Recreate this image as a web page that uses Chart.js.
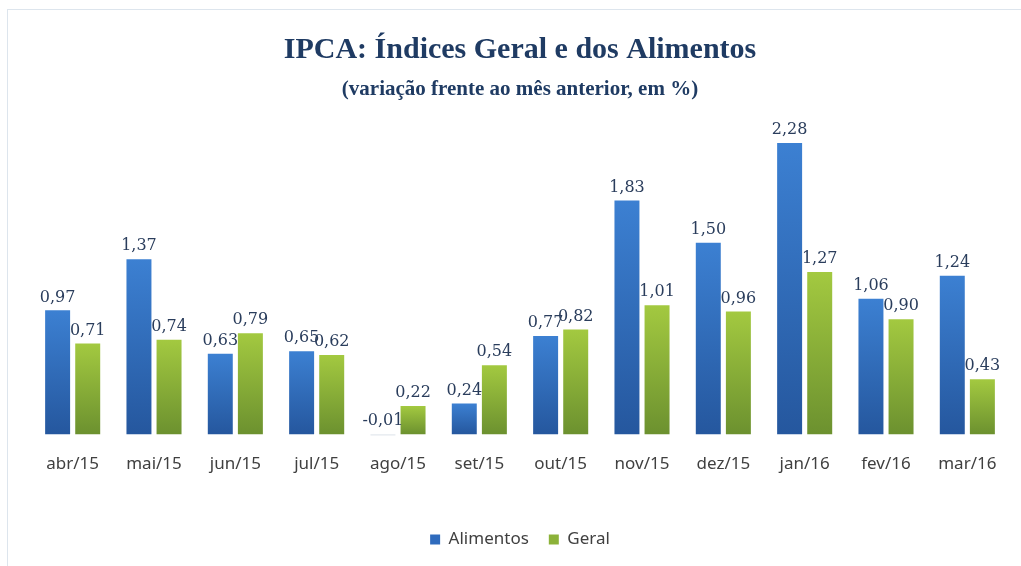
<!DOCTYPE html>
<html lang="pt">
<head>
  <meta charset="UTF-8">
  <title>IPCA</title>
  <style>
    * { margin: 0; padding: 0; }
    body { background: #fff; }
    .frame {
      position: absolute;
      left: 7px;
      top: 9px;
      width: 1014px;
      height: 557px;
      border-top: 1px solid #dde5ed;
      border-left: 1px solid #dde5ed;
    }
    .chartBox {
      position: absolute;
      left: 0;
      top: 0;
      width: 1021px;
      height: 566px;
    }
  </style>
</head>
<body>
  <div class="frame"></div>
  <div class="chartBox">
    <canvas id="myChart"></canvas>
  </div>
  <script src="https://cdn.jsdelivr.net/npm/chart.js@4.4.1/dist/chart.umd.min.js"></script>
  <script>
    const meses = ['abr/15', 'mai/15', 'jun/15', 'jul/15', 'ago/15', 'set/15', 'out/15', 'nov/15', 'dez/15', 'jan/16', 'fev/16', 'mar/16'];
    const alimentos = [0.97, 1.37, 0.63, 0.65, -0.01, 0.24, 0.77, 1.83, 1.50, 2.28, 1.06, 1.24];
    const geral = [0.71, 0.74, 0.79, 0.62, 0.22, 0.54, 0.82, 1.01, 0.96, 1.27, 0.90, 0.43];

    // gradiente por barra: claro em cima, escuro embaixo
    let barGradient = (ctx, top, bottom) => {
      const chart = ctx.chart;
      if (!chart.chartArea || ctx.type != 'data') return top;
      // barra negativa quase invisível, como no original
      if (ctx.raw < 0) return '#e3e8ee';
      const y = chart.scales.y;
      const yVal = y.getPixelForValue(ctx.raw);
      const y0 = y.getPixelForValue(0);
      const g = chart.ctx.createLinearGradient(0, Math.min(yVal, y0), 0, Math.max(yVal, y0));
      g.addColorStop(0, top);
      g.addColorStop(1, bottom);
      return g;
    };

    const valueLabels = {
      id: 'valueLabels',
      afterDatasetsDraw(chart) {
        const c = chart.ctx;
        c.save();
        c.font = '16px "DejaVu Serif", serif';
        c.fillStyle = '#2a3d5c';
        c.textAlign = 'center';
        c.textBaseline = 'bottom';
        chart.data.datasets.forEach((ds, di) => {
          chart.getDatasetMeta(di).data.forEach((bar, i) => {
            const top = Math.min(bar.y, bar.base);
            const txt = ds.data[i].toFixed(2).replace('.', ',');
            c.fillText(txt, bar.x, top - 5);
          });
        });
        c.restore();
      }
    };

    const data = {
      labels: meses,
      datasets: [
        {
          label: 'Alimentos',
          data: alimentos,
          backgroundColor: (ctx) => barGradient(ctx, '#3c80d2', '#25579e'),
          borderWidth: 0,
          barPercentage: 0.83,
          categoryPercentage: 0.74
        },
        {
          label: 'Geral',
          data: geral,
          backgroundColor: (ctx) => barGradient(ctx, '#a3c940', '#6c912f'),
          borderWidth: 0,
          barPercentage: 0.83,
          categoryPercentage: 0.74
        }
      ]
    };

    const options = {
      responsive: true,
      maintainAspectRatio: false,
      animation: false,
      layout: {
        padding: { left: 32, right: 13, top: 0, bottom: 8 }
      },
      scales: {
        x: {
          grid: { display: false },
          border: { display: false },
          ticks: {
            color: '#404040',
            padding: 5,
            font: { family: '"Noto Sans", sans-serif', size: 17 }
          },
          afterFit: (scale) => { scale.height += 32; }
        },
        y: {
          min: -0.05,
          max: 2.6,
          ticks: { display: false, stepSize: 0.5 },
          border: { display: false },
          grid: {
            drawTicks: false,
            color: (ctx) => ctx.tick && ctx.tick.value === 0 ? '#d9d9d9' : 'transparent'
          }
        }
      },
      plugins: {
        title: {
          display: true,
          text: 'IPCA: Índices Geral e dos Alimentos',
          color: '#1f3b63',
          font: { family: '"Liberation Serif", serif', size: 30, weight: 'bold' },
          padding: { top: 32, bottom: 9 }
        },
        subtitle: {
          display: true,
          text: '(variação frente ao mês anterior, em %)',
          color: '#1f3b63',
          font: { family: '"Liberation Serif", serif', size: 21, weight: 'bold' },
          padding: { top: 0, bottom: 0 }
        },
        legend: {
          position: 'bottom',
          labels: {
            color: '#404040',
            boxWidth: 10,
            boxHeight: 10,
            padding: 20,
            font: { family: '"Noto Sans", sans-serif', size: 17 },
            generateLabels: (chart) => chart.data.datasets.map((ds, i) => ({
              text: ds.label,
              fillStyle: i == 0 ? '#2f6bbd' : '#8cb239',
              strokeStyle: 'transparent',
              lineWidth: 0,
              datasetIndex: i,
              fontColor: '#404040'
            }))
          }
        },
        tooltip: { enabled: false }
      }
    };

    const config = {
      type: 'bar',
      data: data,
      options: options,
      plugins: [valueLabels]
    };

    const myChart = new Chart(document.getElementById('myChart'), config);
  </script>
</body>
</html>
